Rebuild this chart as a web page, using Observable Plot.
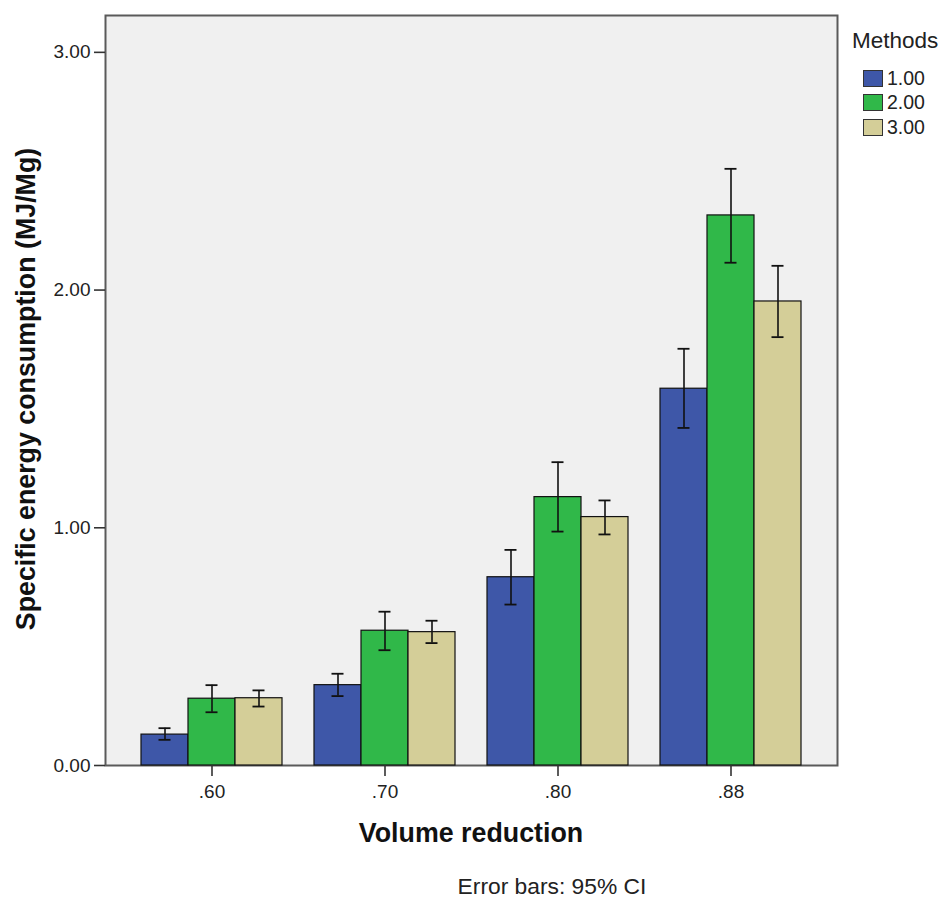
<!DOCTYPE html>
<html>
<head>
<meta charset="utf-8">
<script src="https://cdn.jsdelivr.net/npm/d3@7"></script>
<script src="https://cdn.jsdelivr.net/npm/@observablehq/plot@0.6"></script>
<style>
  html, body { margin: 0; padding: 0; background: #fff; }
  #wrap { position: relative; width: 942px; height: 899px; font-family: "Liberation Sans", Arial, sans-serif; }
  #base, #chart { position: absolute; left: 0; top: 0; }
  .ytitle { position: absolute; left: 26px; top: 389px; transform: translate(-50%, -50%) rotate(-90deg); white-space: nowrap; font-weight: bold; font-size: 26.8px; color: #111; }
  .xtitle { position: absolute; left: 471px; top: 833px; transform: translate(-50%, -50%); white-space: nowrap; font-weight: bold; font-size: 26.8px; color: #111; }
  .caption { position: absolute; left: 552px; top: 886px; transform: translate(-50%, -50%); white-space: nowrap; font-size: 22.8px; color: #222; }
  .legend { position: absolute; left: 852px; top: 28px; color: #222; }
  .legend .lt { font-size: 22.5px; line-height: 26px; margin-bottom: 12px; }
  .legend .row { display: flex; align-items: center; height: 24.5px; margin-left: 11px; font-size: 19.5px; }
  .legend .sw { width: 18px; height: 15px; border: 1px solid #333; margin-right: 4px; }
</style>
</head>
<body>
<div id="wrap">
  <div id="base"></div>
  <div id="chart"></div>
  <div class="ytitle">Specific energy consumption (MJ/Mg)</div>
  <div class="xtitle">Volume reduction</div>
  <div class="caption">Error bars: 95% CI</div>
  <div class="legend" id="legend"></div>
</div>
<script>
// ---- data ----
const volumeReduction = [".60", ".70", ".80", ".88"];
const methods = ["1.00", "2.00", "3.00"];
const methodColors = ["#3e57a8", "#30b849", "#d4ce98"];

const mean1 = [0.130, 0.338, 0.792, 1.585];
const mean2 = [0.281, 0.567, 1.129, 2.314];
const mean3 = [0.283, 0.561, 1.045, 1.952];

const lo1 = [0.108, 0.292, 0.677, 1.420];
const hi1 = [0.157, 0.386, 0.907, 1.753];
const lo2 = [0.224, 0.485, 0.984, 2.115];
const hi2 = [0.338, 0.647, 1.276, 2.510];
const lo3 = [0.248, 0.515, 0.972, 1.802];
const hi3 = [0.316, 0.609, 1.115, 2.102];

const yTicks = [0, 1, 2, 3];

// ---- table ----
const means = [mean1, mean2, mean3];
const los = [lo1, lo2, lo3];
const his = [hi1, hi2, hi3];
const data = [];
volumeReduction.forEach((vr, i) => {
  methods.forEach((m, j) => {
    data.push({vr, method: m, mean: means[j][i], lo: los[j][i], hi: his[j][i]});
  });
});

const W = 942, H = 850;
const margins = {marginLeft: 105, marginRight: 105, marginTop: 15, marginBottom: 85};
const yScale = {domain: [0, 3.155], axis: null};
const font = {fontFamily: "Liberation Sans, Arial, sans-serif", background: "transparent"};

// base layer: plot background, frame and y axis
const base = Plot.plot({
  width: W, height: H, ...margins,
  style: font,
  y: yScale,
  marks: [
    Plot.frame({fill: "#f0f0f0", stroke: "#5a5a5a", strokeWidth: 2}),
    Plot.axisY({ticks: yTicks, tickFormat: d3.format(".2f"), tickSize: 11, tickPadding: 4, fontSize: 19, stroke: "#333", strokeWidth: 1.6, color: "#222", label: null})
  ]
});
document.getElementById("base").appendChild(base);

// bars layer, faceted by volume reduction
const chart = Plot.plot({
  width: W, height: H, ...margins,
  style: font,
  fx: {domain: volumeReduction, paddingInner: 0.185, paddingOuter: 0.205, axis: null, label: null},
  x: {domain: methods, padding: 0, axis: null},
  y: yScale,
  color: {domain: methods, range: methodColors},
  marks: [
    Plot.barY(data, {fx: "vr", x: "method", y: "mean", fill: "method", stroke: "#111", strokeWidth: 1.2}),
    Plot.ruleX(data, {fx: "vr", x: "method", y1: "lo", y2: "hi", stroke: "#111", strokeWidth: 1.6}),
    Plot.tickY(data, {fx: "vr", x: "method", y: "lo", stroke: "#111", strokeWidth: 1.8, insetLeft: 17.5, insetRight: 17.5}),
    Plot.tickY(data, {fx: "vr", x: "method", y: "hi", stroke: "#111", strokeWidth: 1.8, insetLeft: 17.5, insetRight: 17.5}),
    Plot.axisFx({anchor: "bottom", tickSize: 11, tickPadding: 8, fontSize: 19, stroke: "#333", strokeWidth: 1.6, color: "#222", label: null, tickFormat: d => d})
  ]
});
document.getElementById("chart").appendChild(chart);

// ---- legend ----
const legend = document.getElementById("legend");
const lt = document.createElement("div");
lt.className = "lt";
lt.textContent = "Methods";
legend.appendChild(lt);
methods.forEach((m, j) => {
  const row = document.createElement("div");
  row.className = "row";
  const sw = document.createElement("div");
  sw.className = "sw";
  sw.style.background = methodColors[j];
  const lab = document.createElement("span");
  lab.textContent = m;
  row.appendChild(sw);
  row.appendChild(lab);
  legend.appendChild(row);
});
</script>
</body>
</html>
